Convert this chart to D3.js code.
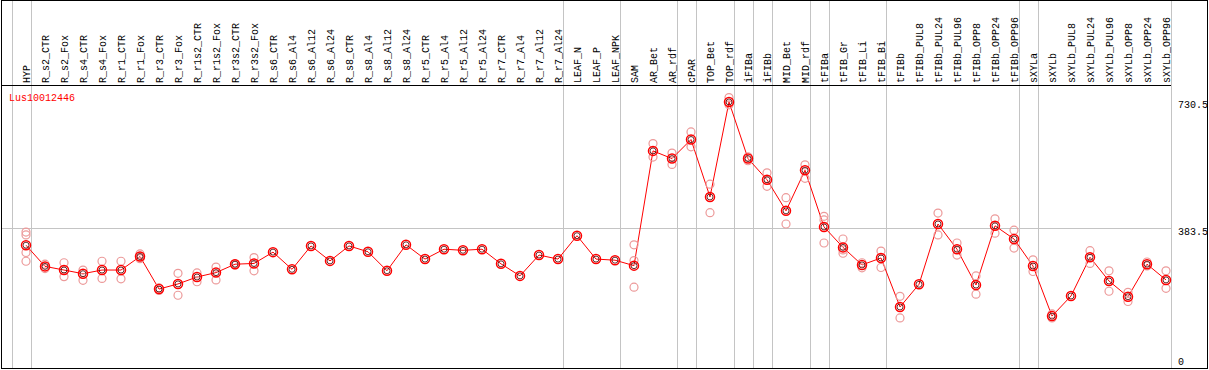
<!DOCTYPE html>
<html>
<head>
<meta charset="utf-8">
<script src="https://cdn.jsdelivr.net/npm/d3@7"></script>
<style>
  body { margin: 0; background: white; }
  svg { display: block; }
  text { font-family: "Liberation Mono", "DejaVu Sans Mono", monospace; font-size: 10px; }
</style>
</head>
<body>
<div id="vis"></div>
<script>
// Dimensiones
const ancho = 1209;
const alto = 370;

// Datos
const muestras = [
  "HYP", "R_s2_CTR", "R_s2_Fox", "R_s4_CTR", "R_s4_Fox", "R_r1_CTR", "R_r1_Fox",
  "R_r3_CTR", "R_r3_Fox", "R_r1s2_CTR", "R_r1s2_Fox", "R_r3s2_CTR", "R_r3s2_Fox",
  "R_s6_CTR", "R_s6_Al4", "R_s6_Al12", "R_s6_Al24", "R_s8_CTR", "R_s8_Al4",
  "R_s8_Al12", "R_s8_Al24", "R_r5_CTR", "R_r5_Al4", "R_r5_Al12", "R_r5_Al24",
  "R_r7_CTR", "R_r7_Al4", "R_r7_Al12", "R_r7_Al24", "LEAF_N", "LEAF_P", "LEAF_NPK",
  "SAM", "AR_Bet", "AR_rdf", "cPAR", "TOP_Bet", "TOP_rdf", "iFIBa", "iFIBb",
  "MID_Bet", "MID_rdf", "tFIBa", "tFIB_Gr", "tFIB_Li", "tFIB_Bi", "tFIBb",
  "tFIBb_PUL8", "tFIBb_PUL24", "tFIBb_PUL96", "tFIBb_OPP8", "tFIBb_OPP24",
  "tFIBb_OPP96", "sXYLa", "sXYLb", "sXYLb_PUL8", "sXYLb_PUL24", "sXYLb_PUL96",
  "sXYLb_OPP8", "sXYLb_OPP24", "sXYLb_OPP96"
];

// primera muestra de cada grupo (lineas verticales grises)
const inicioGrupos = [
  "HYP", "R_s2_CTR", "LEAF_N", "SAM", "cPAR", "TOP_Bet", "iFIBa", "iFIBb",
  "MID_Bet", "tFIBa", "tFIB_Gr", "tFIBb", "sXYLa", "sXYLb"
];

const medias = [
  336, 278, 268, 258, 268, 268, 305, 216, 230, 249, 261, 284, 286,
  317, 270, 334, 293, 334, 318, 266, 337, 298, 325, 322, 325, 285, 252, 309, 298,
  362, 298, 295, 280, 594, 573, 625, 468, 728, 573, 515, 430, 541, 386,
  330, 282, 301, 167, 229, 394, 325, 227, 389, 353, 279, 142, 197, 303,
  238, 195, 284, 241
];

const replicas = [
  [372, 364, 316, 292], [284, 272], [288, 250], [268, 240], [292, 245], [292, 244], [312, 304, 299],
  [219, 212], [259, 199], [260, 236], [276, 241], [285, 282], [302, 266],
  [], [], [], [], [], [], [], [], [], [], [], [], [], [], [], [],
  [], [], [], [337, 294, 221],
  [614, 577], [588, 557], [646, 605], [503, 425], [740, 720], [578, 567], [534, 497],
  [466, 394], [556, 519], [415, 405, 342], [353, 323, 314], [288, 274], [320, 275],
  [196, 137], [], [424, 364], [342, 309], [252, 202], [408, 369], [377, 328],
  [296, 264], [148, 137], [], [321, 286], [266, 210], [207, 182], [290, 279], [266, 218]
];

const etiquetasY = [0, 383.5, 730.5];
const gen = "Lus10012446";

const svg = d3.select("#vis")
  .append("svg")
  .attr("width", ancho)
  .attr("height", alto);

// Escalas
const escalaX = d3.scalePoint()
  .domain(muestras)
  .range([26, 1166]);

const escalaY = d3.scaleLinear()
  .domain([0, 730.5])
  .range([368, 101]);

const finGrid = escalaX(muestras[muestras.length - 1]) + 5;

// Lineas verticales de grupos
const lineasX = inicioGrupos.map(m => escalaX(m) - 14).concat([finGrid]);
svg.selectAll(".vgrid")
  .data(lineasX)
  .enter()
  .append("line")
  .attr("x1", d => Math.round(d) + 0.5)
  .attr("x2", d => Math.round(d) + 0.5)
  .attr("y1", 0)
  .attr("y2", 368)
  .attr("stroke", "#c4c4c4")
  .attr("stroke-width", 1);

// Linea horizontal en el valor medio
svg.append("line")
  .attr("x1", 1)
  .attr("x2", finGrid)
  .attr("y1", Math.round(escalaY(etiquetasY[1])) + 0.5)
  .attr("y2", Math.round(escalaY(etiquetasY[1])) + 0.5)
  .attr("stroke", "#c4c4c4");

// Separador de la cabecera
svg.append("line")
  .attr("x1", 1)
  .attr("x2", finGrid)
  .attr("y1", 85.5)
  .attr("y2", 85.5)
  .attr("stroke", "black");

// Borde
svg.append("rect")
  .attr("x", 1.5)
  .attr("y", 0.5)
  .attr("width", 1206)
  .attr("height", 368)
  .attr("fill", "none")
  .attr("stroke", "black");

// Etiquetas de columnas
svg.selectAll(".etiqueta")
  .data(muestras)
  .enter()
  .append("text")
  .attr("transform", d => `translate(${escalaX(d) + 4},83) rotate(-90)`)
  .attr("fill", "black")
  .text(d => d);

// Nombre del gen
svg.append("text")
  .attr("x", 9)
  .attr("y", 101)
  .attr("fill", "red")
  .text(gen);

// Etiquetas del eje Y
svg.selectAll(".ylab")
  .data(etiquetasY)
  .enter()
  .append("text")
  .attr("x", 1178)
  .attr("y", d => d === 0 ? escalaY(d) - 3 : escalaY(d) + 1)
  .attr("dominant-baseline", d => d === 0 ? "auto" : "hanging")
  .attr("fill", "black")
  .text(d => d);

// Linea de medias
const linea = d3.line()
  .x((d, i) => escalaX(muestras[i]))
  .y(d => escalaY(d));

svg.append("path")
  .attr("d", linea(medias))
  .attr("fill", "none")
  .attr("stroke", "red")
  .attr("stroke-width", 1);

// Replicas
const puntosReplica = replicas.flatMap((r, i) => r.map(v => ({ m: muestras[i], v })));
svg.selectAll(".replica")
  .data(puntosReplica)
  .enter()
  .append("circle")
  .attr("cx", d => escalaX(d.m))
  .attr("cy", d => escalaY(d.v))
  .attr("r", 4)
  .attr("fill", "none")
  .attr("stroke", "#ec9a9a")
  .attr("stroke-width", 1.2);

// Medias
svg.selectAll(".mediaN")
  .data(medias)
  .enter()
  .append("circle")
  .attr("cx", (d, i) => escalaX(muestras[i]))
  .attr("cy", d => escalaY(d))
  .attr("r", 3)
  .attr("fill", "none")
  .attr("stroke", "#400000")
  .attr("stroke-width", 0.8);

svg.selectAll(".mediaR")
  .data(medias)
  .enter()
  .append("circle")
  .attr("cx", (d, i) => escalaX(muestras[i]))
  .attr("cy", d => escalaY(d))
  .attr("r", 4.5)
  .attr("fill", "none")
  .attr("stroke", "red")
  .attr("stroke-width", 1.5);
</script>
</body>
</html>
